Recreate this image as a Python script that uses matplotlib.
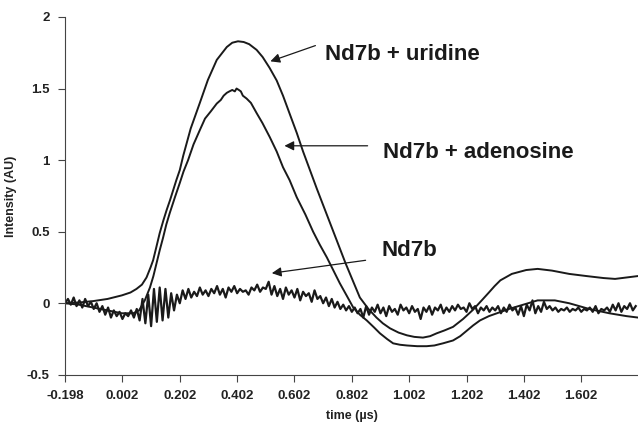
import matplotlib
matplotlib.use("Agg")
import matplotlib.pyplot as plt
import numpy as np

# DADOS

# Nd7b + uridine (curva suave superior)
t_uridine = [-0.198, -0.15, -0.10, -0.05, 0.0, 0.03, 0.051, 0.07, 0.086, 0.10, 0.109, 0.12,
             0.132, 0.145, 0.156, 0.168, 0.179, 0.19, 0.202, 0.214, 0.24, 0.272, 0.30, 0.331,
             0.366, 0.385, 0.405, 0.425, 0.444, 0.47, 0.491, 0.515, 0.54, 0.562, 0.585, 0.61,
             0.632, 0.68, 0.73, 0.78, 0.83, 0.86, 0.888, 0.91, 0.935, 0.965, 0.994, 1.02,
             1.05, 1.075, 1.098, 1.125, 1.155, 1.19, 1.225, 1.255, 1.28, 1.30, 1.32, 1.36,
             1.41, 1.45, 1.50, 1.56, 1.62, 1.68, 1.72, 1.76, 1.80]
y_uridine = [0.0, 0.005, 0.015, 0.03, 0.055, 0.075, 0.10, 0.13, 0.18, 0.25, 0.30, 0.39,
             0.49, 0.58, 0.65, 0.72, 0.79, 0.86, 0.93, 1.03, 1.22, 1.40, 1.56, 1.70,
             1.79, 1.82, 1.83, 1.825, 1.81, 1.77, 1.72, 1.645, 1.556, 1.45, 1.325, 1.19,
             1.06, 0.80, 0.54, 0.28, 0.04, -0.04, -0.10, -0.14, -0.175, -0.205, -0.224, -0.235,
             -0.24, -0.23, -0.21, -0.19, -0.165, -0.11, -0.045, 0.02, 0.075, 0.12, 0.16, 0.205,
             0.232, 0.24, 0.228, 0.205, 0.19, 0.176, 0.17, 0.18, 0.19]

# Nd7b + adenosine
t_adenosine = [-0.198, -0.15, -0.10, -0.05, 0.0, 0.04, 0.06, 0.08, 0.098, 0.11, 0.121, 0.132,
               0.144, 0.155, 0.167, 0.185, 0.202, 0.215, 0.231, 0.25, 0.272, 0.29, 0.31, 0.331,
               0.345, 0.355, 0.366, 0.375, 0.385, 0.394, 0.40, 0.408, 0.415, 0.422, 0.435,
               0.45, 0.471, 0.49, 0.516, 0.54, 0.562, 0.585, 0.61, 0.64, 0.667, 0.69, 0.715,
               0.74, 0.76, 0.785, 0.807, 0.83, 0.854, 0.88, 0.90, 0.925, 0.946, 0.97, 0.994,
               1.03, 1.063, 1.09, 1.12, 1.155, 1.18, 1.204, 1.225, 1.249, 1.28, 1.308, 1.35,
               1.40, 1.45, 1.51, 1.56, 1.63, 1.70, 1.76, 1.80]
y_adenosine = [0.0, -0.01, -0.03, -0.05, -0.07, -0.07, -0.05, 0.02, 0.11, 0.19, 0.28, 0.37,
               0.46, 0.55, 0.63, 0.74, 0.84, 0.92, 1.0, 1.11, 1.21, 1.29, 1.34, 1.395,
               1.42, 1.45, 1.47, 1.48, 1.49, 1.48, 1.50, 1.49, 1.48, 1.45, 1.43,
               1.40, 1.325, 1.26, 1.16, 1.06, 0.95, 0.86, 0.74, 0.62, 0.50, 0.41, 0.32,
               0.22, 0.14, 0.05, -0.03, -0.08, -0.12, -0.17, -0.21, -0.25, -0.28, -0.29, -0.295,
               -0.30, -0.30, -0.295, -0.28, -0.26, -0.23, -0.19, -0.155, -0.12, -0.09, -0.07, -0.04,
               -0.01, 0.02, 0.02, 0.0, -0.04, -0.07, -0.09, -0.10]

# Nd7b (sinal ruidoso), amostrado a cada 0.01 us a partir de -0.198
t0_nd7b = -0.198
dt_nd7b = 0.01
y_nd7b = [0.0, 0.03, -0.01, 0.04, -0.02, 0.02, -0.03, 0.03, -0.02, 0.01,
          -0.04, 0.0, -0.06, -0.02, -0.08, -0.03, -0.10, -0.05, -0.09, -0.06,
          -0.11, -0.07, -0.09, -0.05, -0.10, -0.04, -0.12, 0.03, -0.14, 0.06,
          -0.16, 0.10, -0.13, 0.11, -0.12, 0.10, -0.10, 0.07, -0.05, 0.06,
          0.0, 0.09, 0.03, 0.10, 0.04, 0.08, 0.05, 0.11, 0.06, 0.09,
          0.05, 0.10, 0.07, 0.12, 0.06, 0.10, 0.04, 0.11, 0.08, 0.12,
          0.07, 0.10, 0.08, 0.09, 0.06, 0.11, 0.09, 0.13, 0.08, 0.11,
          0.10, 0.15, 0.06, 0.12, 0.05, 0.10, 0.03, 0.11, 0.06, 0.09,
          0.04, 0.10, 0.02, 0.08, 0.05, 0.07, 0.01, 0.09, 0.03, 0.05,
          0.0, 0.04, -0.02, 0.03, -0.03, 0.01, -0.04, -0.01, -0.05, -0.02,
          -0.06, -0.03, -0.07, -0.04, -0.10, -0.02, -0.08, -0.03, -0.06, -0.01,
          -0.07, -0.03, -0.09, -0.02, -0.06, -0.04, -0.08, -0.01, -0.05, -0.03,
          -0.07, -0.02, -0.06, -0.04, -0.11, -0.03, -0.06, -0.02, -0.08, -0.03,
          -0.05, -0.01, -0.07, -0.03, -0.06, -0.02, -0.05, -0.01, -0.04, -0.03,
          -0.06, 0.0, -0.04, -0.02, -0.07, -0.03, -0.05, -0.02, -0.06, -0.03,
          -0.05, -0.02, -0.07, -0.03, -0.06, -0.01, -0.05, -0.03, -0.08, -0.02,
          -0.09, -0.01, -0.05, 0.02, -0.07, -0.02, -0.06, 0.01, -0.04, -0.02,
          -0.05, -0.03, -0.06, -0.04, -0.05, -0.03, -0.06, -0.04, -0.05, -0.03,
          -0.06, -0.04, -0.05, -0.03, -0.06, -0.02, -0.07, -0.04, -0.05, -0.03,
          -0.06, -0.01, -0.05, 0.0, -0.06, -0.02, -0.04, 0.0, -0.05, -0.02]
t_nd7b = t0_nd7b + dt_nd7b * np.arange(len(y_nd7b))

x_ticks = [-0.198, 0.002, 0.202, 0.402, 0.602, 0.802, 1.002, 1.202, 1.402, 1.602]
y_ticks = [-0.5, 0, 0.5, 1, 1.5, 2]
y_ticklabels = ["-0.5", "0", "0.5", "1", "1.5", "2"]

# FIGURA

plt.rcParams['font.family'] = ['Liberation Sans', 'DejaVu Sans']
fig = plt.figure(figsize=(6.38, 4.24), dpi=100)
ax = fig.add_axes([0.102, 0.116, 0.898, 0.844])

cor = '#1a1a1a'
ax.plot(t_uridine, y_uridine, color=cor, lw=1.4)
ax.plot(t_adenosine, y_adenosine, color=cor, lw=1.4)
ax.plot(t_nd7b, y_nd7b, color=cor, lw=1.6)

ax.set_xlim(-0.198, 1.80)
ax.set_ylim(-0.5, 2)

ax.spines['top'].set_visible(False)
ax.spines['right'].set_visible(False)
ax.spines['left'].set_color('#444444')
ax.spines['bottom'].set_color('#444444')

ax.set_xticks(x_ticks)
ax.set_xticklabels([f"{v:.3f}" for v in x_ticks])
ax.set_yticks(y_ticks)
ax.set_yticklabels(y_ticklabels)
ax.tick_params(direction='out', length=5, width=0.8, color='#444444', pad=6)
for lab in ax.get_xticklabels() + ax.get_yticklabels():
    lab.set_fontsize(9.5)
    lab.set_fontweight('bold')
    lab.set_color('#222222')

ax.set_xlabel('time (\u00b5s)', fontsize=9, fontweight='bold', color='#222222', labelpad=6)
ax.set_ylabel('Intensity (AU)', fontsize=9, fontweight='bold', color='#222222', labelpad=7)

# anotacoes com setas
seta = dict(arrowstyle='-|>', color=cor, lw=0.9, mutation_scale=14, shrinkA=0, shrinkB=0)
ax.annotate('', xy=(0.518, 1.69), xytext=(0.675, 1.80), arrowprops=seta)
ax.text(0.707, 1.74, 'Nd7b + uridine', fontsize=16, fontweight='bold', color=cor, va='center')

ax.annotate('', xy=(0.567, 1.10), xytext=(0.857, 1.10), arrowprops=seta)
ax.text(0.912, 1.05, 'Nd7b + adenosine', fontsize=16, fontweight='bold', color=cor, va='center')

ax.annotate('', xy=(0.523, 0.21), xytext=(0.85, 0.30), arrowprops=seta)
ax.text(0.905, 0.37, 'Nd7b', fontsize=16, fontweight='bold', color=cor, va='center')

fig.savefig('out.png', dpi=100)
